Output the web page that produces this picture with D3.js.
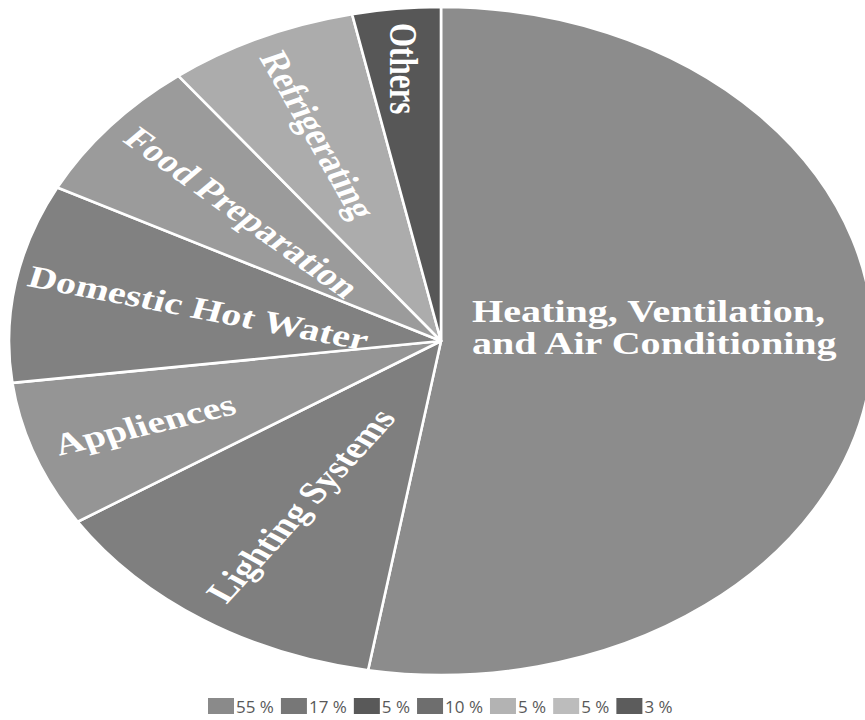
<!DOCTYPE html>
<html><head><meta charset="utf-8">
<script src="https://cdn.jsdelivr.net/npm/d3@7"></script>
<style>html,body{margin:0;padding:0;background:#fff;} svg{display:block}</style>
</head><body>
<svg id="chart" width="865" height="720"></svg>
<script>
// ---- data ----
const categories = ["Heating, Ventilation, and Air Conditioning", "Lighting Systems", "Appliences",
  "Domestic Hot Water", "Food Preparation", "Refrigerating", "Others"];
const shares = [52.7, 13.2, 7.1, 9.6, 7.0, 7.1, 3.3];          // slice sizes as drawn
const legendValues = [55, 17, 5, 10, 5, 5, 3];                  // legend labels (%)
const sliceColors = ["#8c8c8c", "#7f7f7f", "#959595", "#818181", "#9b9b9b", "#acacac", "#575757"];
const legendColors = ["#8a8a8a", "#777777", "#595959", "#6e6e6e", "#b3b3b3", "#bcbcbc", "#5c5c5c"];
// label layout: radial distance (fraction of radius) and rotation (deg)
const labelLayout = [null, {r:0.59, rot:-54.7}, {r:0.73, rot:-17}, {r:0.57, rot:13.9},
  {r:0.60, rot:42.7}, {r:0.68, rot:66.1}, {r:0.82, rot:90}];

// ---- drawing ----
const W = 865, H = 720;
const cx = 441, cy = 341, ry = 334, rx = 432;
const sx = rx / ry;
const svg = d3.select("#chart");
svg.append("rect").attr("width", W).attr("height", H).attr("fill", "#fff");

const g = svg.append("g").attr("transform", `translate(${cx},${cy}) scale(${sx},1)`);
const arcs = d3.pie().sort(null).value(d => d)(shares);
const arc = d3.arc().innerRadius(0).outerRadius(ry);

g.selectAll("path.slice").data(arcs).join("path")
  .attr("class", "slice")
  .attr("d", arc)
  .attr("fill", (d, i) => sliceColors[i])
  .attr("stroke", "#fff")
  .attr("stroke-width", 2.6)
  .attr("stroke-linejoin", "round")
  .attr("vector-effect", "non-scaling-stroke");

const labelFont = "'Liberation Serif', 'Times New Roman', serif";
arcs.forEach((d, i) => {
  const L = labelLayout[i];
  if (!L) return;
  const mid = (d.startAngle + d.endAngle) / 2;
  const x = Math.sin(mid) * ry * L.r;
  const y = -Math.cos(mid) * ry * L.r;
  g.append("text")
    .attr("transform", `translate(${x},${y}) rotate(${L.rot})`)
    .attr("text-anchor", "middle")
    .attr("dy", "0.35em")
    .attr("font-family", labelFont)
    .attr("font-weight", "bold")
    .attr("font-size", 31)
    .attr("fill", "#fff")
    .text(categories[i]);
});

// HVAC label (two lines)
const hv = g.append("text")
  .attr("font-family", labelFont)
  .attr("font-weight", "bold")
  .attr("font-size", 31)
  .attr("fill", "#fff");
hv.append("tspan").attr("x", 24).attr("y", -19).text("Heating, Ventilation,");
hv.append("tspan").attr("x", 24).attr("y", 13).text("and Air Conditioning");

// ---- legend ----
const leg = svg.append("g");
let lx = 208;
const swW = 26, swH = 16, swY = 698;
legendValues.forEach((v, i) => {
  leg.append("rect").attr("x", lx).attr("y", swY).attr("width", swW).attr("height", swH)
    .attr("fill", legendColors[i]);
  const t = leg.append("text").attr("x", lx + swW + 2).attr("y", 713)
    .attr("font-family", "'Open Sans', sans-serif").attr("font-size", 17)
    .attr("fill", "#595959").text(v + " %");
  lx += swW + 2 + t.node().getComputedTextLength() + 7;
});
</script>
</body></html>
